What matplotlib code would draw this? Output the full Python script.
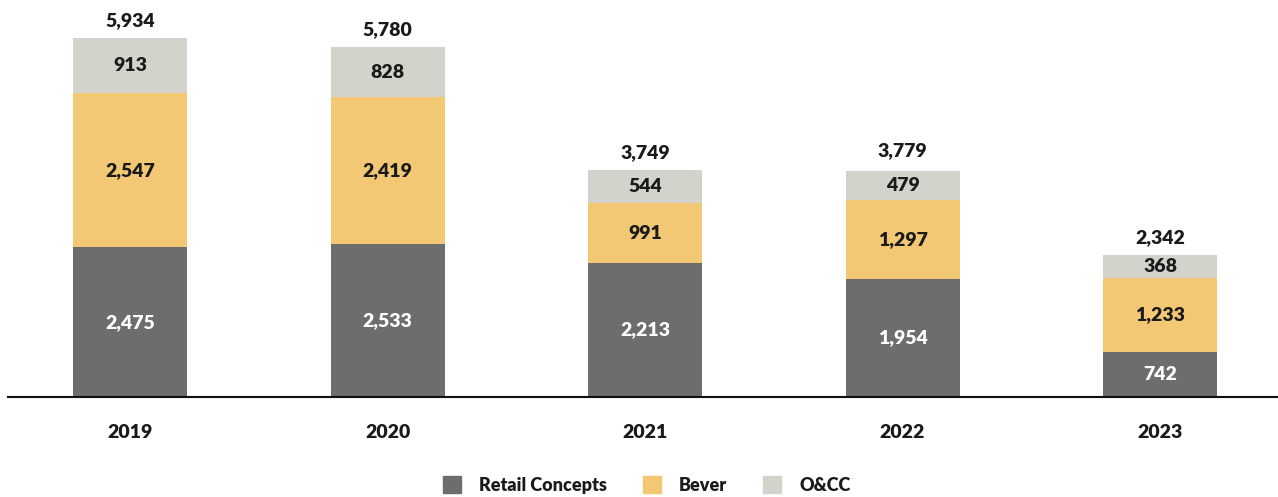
import matplotlib
matplotlib.use("Agg")
import matplotlib.pyplot as plt
from matplotlib.patches import Patch

years = ["2019", "2020", "2021", "2022", "2023"]
retail = [2475, 2533, 2213, 1954, 742]
bever = [2547, 2419, 991, 1297, 1233]
occ = [913, 828, 544, 479, 368]
totals = [5934, 5780, 3749, 3779, 2342]

c_retail = "#6d6d6d"
c_bever = "#f2c875"
c_occ = "#d3d3cb"

plt.rcParams["font.family"] = ["Lato", "DejaVu Sans"]

fig = plt.figure(figsize=(12.78, 4.97), dpi=100)
ax = fig.add_axes([8 / 1278, 100 / 497, 1270 / 1278, 397 / 497])

x = list(range(len(years)))
w = 0.443
ax.bar(x, retail, w, color=c_retail)
ax.bar(x, bever, w, bottom=retail, color=c_bever)
b3 = [r + b for r, b in zip(retail, bever)]
ax.bar(x, occ, w, bottom=b3, color=c_occ)

fs = 14
for i in x:
    ax.text(i, retail[i] / 2, f"{retail[i]:,}", ha="center", va="center",
            color="white", fontsize=fs, fontweight="heavy")
    ax.text(i, retail[i] + bever[i] / 2, f"{bever[i]:,}", ha="center", va="center",
            color="#1a1a1a", fontsize=fs, fontweight="heavy")
    ax.text(i, b3[i] + occ[i] / 2, f"{occ[i]:,}", ha="center", va="center",
            color="#1a1a1a", fontsize=fs, fontweight="heavy")
    ax.text(i, totals[i] + 290, f"{totals[i]:,}", ha="center", va="center",
            color="#1a1a1a", fontsize=fs, fontweight="heavy")
    ax.text(i, -580, years[i], ha="center", va="center",
            color="#1a1a1a", fontsize=fs, fontweight="heavy")

ax.set_xlim(-0.474, 4.458)
ax.set_ylim(0, 6562)
for s in ["top", "right", "left"]:
    ax.spines[s].set_visible(False)
ax.spines["bottom"].set_linewidth(1.5)
ax.spines["bottom"].set_color("#111111")
ax.set_xticks([])
ax.set_yticks([])

handles = [Patch(color=c_retail, label="Retail Concepts"),
           Patch(color=c_bever, label="Bever"),
           Patch(color=c_occ, label="O&CC")]
leg = fig.legend(handles=handles, loc="center", bbox_to_anchor=(0.506, 12 / 497),
                 ncol=3, frameon=False, handlelength=1.0, handleheight=1.0,
                 columnspacing=2.0, handletextpad=1.0,
                 prop={"size": 13, "weight": "heavy"})
for t in leg.get_texts():
    t.set_color("#1a1a1a")

fig.savefig("out.png", dpi=100)
